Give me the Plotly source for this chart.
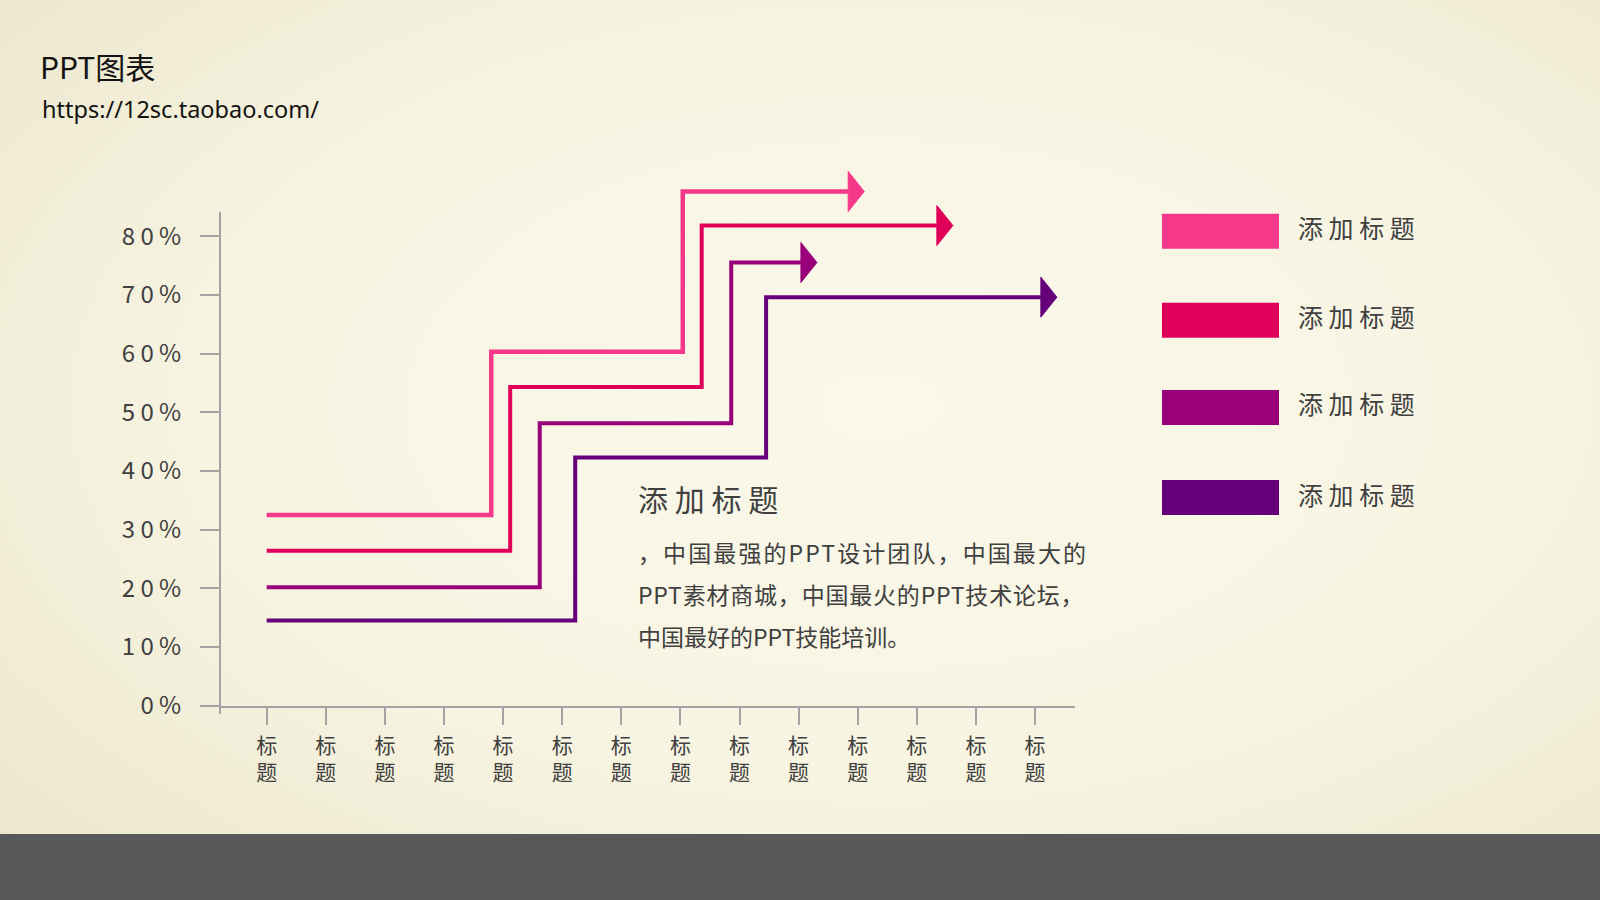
import base64
import plotly.graph_objects as go

W, H = 1600, 900

# ---- data ----
categories = ["标<br>题"] * 14
y_ticks = [0, 10, 20, 30, 40, 50, 60, 70, 80]
series_names = ["添加标题", "添加标题", "添加标题", "添加标题"]
series_colors = ["#F5388A", "#E0005A", "#9A007A", "#65007A"]
start_levels = [32.5, 26.4, 20.2, 14.5]   # %
mid_levels = [60.3, 54.3, 48.1, 42.3]
end_levels = [87.6, 81.8, 75.5, 69.6]
first_step = [3.80, 4.12, 4.62, 5.22]     # category units
second_step = [7.04, 7.36, 7.86, 8.45]
arrow_end = [10.11, 11.61, 9.31, 13.37]

block_title = "添加标题"
body_lines = [
    "，中国最强的PPT设计团队，中国最大的",
    "PPT素材商城，中国最火的PPT技术论坛，",
    "中国最好的PPT技能培训。",
]
body_spacing = [2.1, 0.8, 0]   # px, imitates the justified paragraph

FONT = "Noto Sans CJK SC"
TXT = "#404040"
AXIS = "#A3A3A3"

# pixel geometry of the plot area
X0_PX, X_UNIT = 266.7, 59.1      # category 0 position, px per category
Y0_PX, Y_UNIT = 705.7, 5.87      # 0% position, px per %
LEFT_PX, RIGHT_PX, TOP_PX = 220, 1075, 148

x_range = [(LEFT_PX - X0_PX) / X_UNIT, (RIGHT_PX - X0_PX) / X_UNIT]
y_range = [0, (Y0_PX - TOP_PX) / Y_UNIT]

head_len = 16 / X_UNIT
head_half = 20 / Y_UNIT
widths = [4.5, 4, 4, 4]


def px(x):
    return x / W


def py(y):
    return 1 - y / H


fig = go.Figure()

for i, col in enumerate(series_colors):
    base = arrow_end[i] - head_len
    fig.add_trace(go.Scatter(
        x=[0, first_step[i], second_step[i], base],
        y=[start_levels[i], mid_levels[i], end_levels[i], end_levels[i]],
        mode="lines", line=dict(color=col, width=widths[i], shape="hv"),
        name=series_names[i], hoverinfo="skip",
    ))
    fig.add_trace(go.Scatter(
        x=[base, base, arrow_end[i], base],
        y=[end_levels[i] + head_half, end_levels[i] - head_half, end_levels[i], end_levels[i] + head_half],
        mode="lines", fill="toself", fillcolor=col, line=dict(color=col, width=1),
        hoverinfo="skip",
    ))

# background gradient
svg = ('<svg xmlns="http://www.w3.org/2000/svg" width="1600" height="900">'
       '<defs><radialGradient id="g" cx="55%" cy="45%" r="75%">'
       '<stop offset="0" stop-color="#FAF8EA"/><stop offset="0.55" stop-color="#F7F4E2"/>'
       '<stop offset="1" stop-color="#EBE6CB"/></radialGradient></defs>'
       '<rect width="1600" height="900" fill="url(#g)"/></svg>')
bg_src = "data:image/svg+xml;base64," + base64.b64encode(svg.encode()).decode()

shapes = [
    # y axis line (stops at ~84%)
    dict(type="line", xref="paper", yref="paper", x0=px(LEFT_PX), x1=px(LEFT_PX),
         y0=py(714), y1=py(211.7), line=dict(color=AXIS, width=2)),
    # bottom band
    dict(type="rect", xref="paper", yref="paper", x0=0, x1=1, y0=0, y1=py(834),
         fillcolor="#59595B", line=dict(width=0)),
]

annotations = [
    dict(text="PPT图表", x=px(38), y=py(66), xref="paper", yref="paper", xanchor="left",
         yanchor="middle", showarrow=False, font=dict(family=FONT, size=30, color="#141414")),
    dict(text="https://12sc.taobao.com/", x=px(40), y=py(109), xref="paper", yref="paper",
         xanchor="left", yanchor="middle", showarrow=False,
         font=dict(family="Noto Sans", size=23.5, color="#141414")),
    dict(text=" ".join(block_title), x=px(636), y=py(498), xref="paper", yref="paper",
         xanchor="left", yanchor="middle", showarrow=False, font=dict(family=FONT, size=30, color=TXT)),
]
for k, line in enumerate(body_lines):
    annotations.append(dict(text=f'<span style="letter-spacing:{body_spacing[k]}px">{line}</span>',
                            x=px(636), y=py(552 + 42 * k), xref="paper", yref="paper",
                            xanchor="left", yanchor="middle", showarrow=False,
                            font=dict(family=FONT, size=23, color=TXT)))

# legend on the right
legend_centers = [231.3, 320.3, 407.5, 497.5]
for name, col, cy in zip(series_names, series_colors, legend_centers):
    shapes.append(dict(type="rect", xref="paper", yref="paper", x0=px(1162), x1=px(1279),
                       y0=py(cy + 17.5), y1=py(cy - 17.5), fillcolor=col, line=dict(width=0)))
    annotations.append(dict(text=" ".join(name), x=px(1296), y=py(cy - 4), xref="paper", yref="paper",
                            xanchor="left", yanchor="middle", showarrow=False,
                            font=dict(family=FONT, size=25, color=TXT)))

fig.update_layout(
    width=W, height=H, autosize=False,
    margin=dict(l=0, r=0, t=0, b=0, autoexpand=False),
    paper_bgcolor="#F6F3E1", plot_bgcolor="rgba(0,0,0,0)",
    showlegend=False, hovermode=False,
    shapes=shapes, annotations=annotations,
    images=[dict(source=bg_src, xref="paper", yref="paper", x=0, y=1, sizex=1, sizey=1,
                 sizing="stretch", xanchor="left", yanchor="top", layer="below")],
    xaxis=dict(domain=[px(LEFT_PX), px(RIGHT_PX)], range=x_range, showgrid=False, zeroline=False,
               showline=True, linecolor=AXIS, linewidth=2, automargin=False,
               tickvals=list(range(len(categories))), ticktext=categories,
               ticks="outside", ticklen=17, tickwidth=2, tickcolor=AXIS, ticklabelstandoff=3,
               tickfont=dict(family=FONT, size=21, color=TXT)),
    yaxis=dict(domain=[py(Y0_PX), py(TOP_PX)], range=y_range, showgrid=False, zeroline=False,
               showline=False, automargin=False,
               tickvals=y_ticks, ticktext=[" ".join(f"{v}%") for v in y_ticks],
               ticks="outside", ticklen=19, tickwidth=2, tickcolor=AXIS, ticklabelstandoff=14,
               tickfont=dict(family=FONT, size=24, color=TXT)),
)

fig.write_html("out.html", config={"displayModeBar": False},
               post_script="document.body.style.margin='0';document.body.style.overflow='hidden';")
